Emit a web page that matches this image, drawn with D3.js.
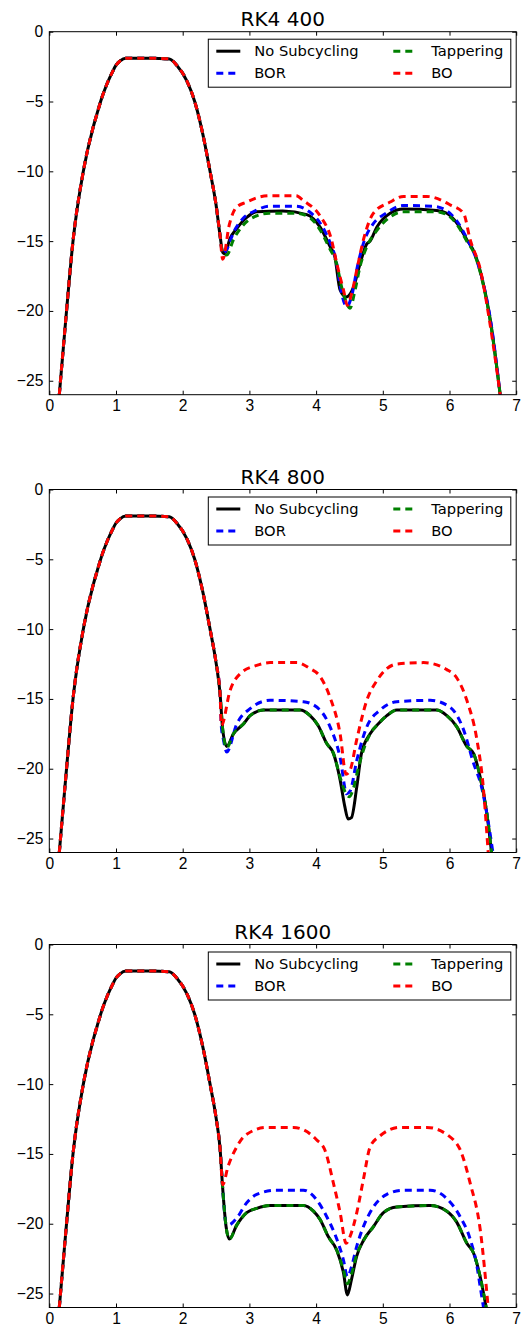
<!DOCTYPE html>
<html>
<head>
<meta charset="utf-8">
<script src="https://cdn.jsdelivr.net/npm/d3@7"></script>
<style>
  body { margin: 0; background: #fff; }
  svg { font-family: "DejaVu Sans", sans-serif; }
  .axis path.domain { display: none; }
  .axis line { stroke: #000; }
  .axis text { font-size: 15.6px; fill: #000; }
</style>
</head>
<body>
<div id="chart"></div>
<script>
// shared data
var titles = ["RK4 400", "RK4 800", "RK4 1600"];
var names = ["No Subcycling", "BOR", "Tappering", "BO"];
var xTicks = [0, 1, 2, 3, 4, 5, 6, 7];
var yTicks = [0, -5, -10, -15, -20, -25];

// common rising / falling part (all series overlap here)
var riseX = [0.15, 0.24, 0.36, 0.51, 0.66, 0.72, 0.79, 0.86, 0.94, 1.0, 1.06, 1.15, 1.5, 1.8, 1.91, 2.06, 2.18, 2.3, 2.41, 2.5, 2.56];
var riseY = [-26, -21, -14.8, -10, -6.8, -5.8, -4.7, -3.8, -2.95, -2.4, -2.1, -1.9, -1.9, -1.95, -2.4, -3.5, -5, -7.3, -10, -12.4, -14.6];

// RK4 400
var p1NoX  = [2.6, 2.63, 2.71, 2.81, 2.96, 3.11, 3.5, 3.86, 4.06, 4.21, 4.28, 4.36, 4.45, 4.56, 4.66, 4.76, 4.81, 4.91, 5.11, 5.31, 5.81, 5.96, 6.11, 6.26, 6.38, 6.48, 6.61, 6.76];
var p1NoY  = [-15.8, -15.9, -14.8, -14.1, -13.3, -12.9, -12.85, -13.1, -14.0, -15.4, -16.1, -18.5, -19.0, -18.3, -16.6, -15.2, -15.0, -14.0, -13.0, -12.7, -12.8, -13.0, -13.7, -14.9, -15.9, -17.5, -20.6, -26];
var p1BorX = [2.6, 2.66, 2.76, 2.9, 3.1, 3.3, 3.7, 3.9, 4.06, 4.2, 4.3, 4.38, 4.46, 4.53, 4.62, 4.72, 4.85, 5.05, 5.3, 5.75, 5.95, 6.1, 6.26, 6.38, 6.5, 6.62, 6.76];
var p1BorY = [-15.9, -15.6, -14.4, -13.4, -12.8, -12.5, -12.5, -12.9, -13.7, -15.0, -16.4, -18.7, -19.7, -19.0, -16.8, -15.0, -13.8, -13.0, -12.45, -12.5, -12.8, -13.5, -14.8, -16.0, -17.9, -20.8, -26];
var p1TapX = [2.6, 2.66, 2.76, 2.9, 3.1, 3.3, 3.7, 3.9, 4.06, 4.2, 4.3, 4.4, 4.51, 4.58, 4.66, 4.76, 4.9, 5.1, 5.3, 5.8, 5.96, 6.11, 6.26, 6.38, 6.48, 6.61, 6.76];
var p1TapY = [-15.9, -16.0, -14.9, -13.9, -13.2, -13.0, -13.0, -13.3, -14.2, -15.5, -16.5, -18.6, -19.8, -18.6, -16.8, -15.4, -14.3, -13.3, -12.9, -12.9, -13.1, -13.8, -15.0, -16.0, -17.6, -20.7, -26];
var p1BoX  = [2.6, 2.7, 2.8, 2.96, 3.11, 3.3, 3.7, 3.81, 4.06, 4.23, 4.31, 4.41, 4.47, 4.53, 4.63, 4.71, 4.86, 5.11, 5.31, 5.66, 6.01, 6.21, 6.31, 6.46, 6.61, 6.76];
var p1BoY  = [-16.3, -13.8, -12.6, -12.2, -11.9, -11.75, -11.75, -12.1, -13.2, -14.9, -16.6, -18.5, -19.6, -18.8, -16.6, -14.9, -13.0, -12.2, -11.8, -11.8, -12.4, -13.0, -14.9, -17.0, -21.0, -26];

// RK4 800
var p2NoX  = [2.6, 2.66, 2.76, 2.91, 3.01, 3.21, 3.76, 3.91, 4.03, 4.16, 4.26, 4.36, 4.43, 4.48, 4.53, 4.61, 4.68, 4.81, 4.93, 5.06, 5.21, 5.81, 5.96, 6.11, 6.26, 6.36, 6.46, 6.56, 6.63];
var p2NoY  = [-17.2, -18.4, -17.5, -16.8, -16.2, -15.8, -15.8, -16.2, -16.9, -18.2, -18.9, -20.8, -22.7, -23.6, -23.5, -21.3, -18.9, -17.5, -16.8, -16.2, -15.8, -15.8, -16.2, -17.0, -18.4, -18.9, -20.6, -23.2, -26];
var p2BorX = [2.58, 2.61, 2.66, 2.81, 3.01, 3.31, 3.81, 4.06, 4.21, 4.36, 4.46, 4.51, 4.61, 4.76, 4.96, 5.21, 5.71, 6.01, 6.21, 6.36, 6.48, 6.61, 6.65];
var p2BorY = [-17.0, -17.9, -18.8, -16.8, -15.7, -15.1, -15.2, -15.8, -17.0, -19.2, -21.8, -21.6, -19.4, -17.0, -15.8, -15.2, -15.1, -15.6, -17.2, -19.6, -21.3, -24.7, -26];
var p2TapX = [2.6, 2.66, 2.76, 2.91, 3.01, 3.21, 3.76, 3.91, 4.03, 4.16, 4.26, 4.36, 4.43, 4.5, 4.56, 4.63, 4.7, 4.81, 4.93, 5.06, 5.21, 5.81, 5.96, 6.11, 6.26, 6.36, 6.46, 6.56, 6.63];
var p2TapY = [-17.2, -18.5, -17.5, -16.8, -16.2, -15.8, -15.8, -16.2, -16.9, -18.2, -18.9, -20.6, -21.6, -22.0, -21.4, -20.0, -18.8, -17.5, -16.8, -16.2, -15.8, -15.8, -16.2, -17.0, -18.4, -18.9, -20.6, -23.2, -26];
var p2BoX  = [2.58, 2.71, 2.86, 3.11, 3.31, 3.71, 3.9, 4.06, 4.21, 4.36, 4.45, 4.51, 4.61, 4.76, 4.91, 5.21, 5.61, 5.96, 6.11, 6.26, 6.41, 6.5, 6.58];
var p2BoY  = [-16.9, -14.4, -13.2, -12.6, -12.4, -12.4, -12.8, -13.4, -14.9, -17.5, -20.4, -20.1, -17.9, -15.1, -13.7, -12.5, -12.4, -12.9, -13.5, -15.1, -17.9, -21.0, -26];

// RK4 1600
var p3NoX  = [2.6, 2.65, 2.7, 2.81, 2.96, 3.11, 3.31, 3.81, 3.96, 4.06, 4.18, 4.31, 4.41, 4.47, 4.53, 4.61, 4.71, 4.86, 5.01, 5.21, 5.71, 5.96, 6.11, 6.26, 6.36, 6.46, 6.55];
var p3NoY  = [-17.5, -20.2, -21.1, -20.1, -19.2, -18.9, -18.7, -18.7, -19.1, -19.7, -20.9, -21.9, -23.5, -25.1, -24.0, -22.3, -21.2, -20.2, -19.2, -18.8, -18.7, -19.1, -19.9, -21.4, -22.1, -23.8, -26];
var p3BorX = [2.6, 2.65, 2.68, 2.81, 2.96, 3.11, 3.41, 3.81, 4.01, 4.16, 4.31, 4.41, 4.47, 4.53, 4.61, 4.71, 4.86, 5.06, 5.31, 5.71, 5.96, 6.16, 6.31, 6.41, 6.46, 6.51];
var p3BorY = [-17.5, -20.0, -20.1, -19.6, -18.5, -17.9, -17.6, -17.6, -18.3, -19.5, -21.1, -22.6, -23.8, -23.1, -21.6, -20.2, -18.8, -17.9, -17.6, -17.6, -18.2, -19.5, -21.1, -23.0, -24.5, -26];
var p3TapX = [2.6, 2.65, 2.7, 2.81, 2.96, 3.11, 3.31, 3.81, 3.96, 4.06, 4.18, 4.31, 4.41, 4.47, 4.53, 4.61, 4.71, 4.86, 5.01, 5.21, 5.71, 5.96, 6.11, 6.26, 6.36, 6.46, 6.55];
var p3TapY = [-17.5, -20.2, -21.1, -20.1, -19.2, -18.9, -18.7, -18.7, -19.1, -19.7, -20.9, -21.9, -23.3, -24.3, -23.6, -22.2, -21.2, -20.2, -19.2, -18.8, -18.7, -19.1, -19.9, -21.4, -22.1, -23.8, -26];
var p3BoX  = [2.6, 2.68, 2.81, 2.93, 3.26, 3.66, 4.01, 4.13, 4.26, 4.36, 4.45, 4.51, 4.61, 4.71, 4.81, 4.96, 5.26, 5.66, 6.06, 6.16, 6.31, 6.46, 6.58];
var p3BoY  = [-17.2, -15.9, -14.5, -13.7, -13.1, -13.1, -14.0, -14.7, -17.1, -19.2, -21.4, -20.9, -19.2, -16.8, -14.5, -13.7, -13.1, -13.1, -14.0, -14.7, -17.1, -20.4, -26];

var colors = ["#000000", "#0000ff", "#008000", "#ff0000"];
var dashes = [null, "7,5", "7,5", "7,5"];

var panels = [
  [[p1NoX, p1NoY], [p1BorX, p1BorY], [p1TapX, p1TapY], [p1BoX, p1BoY]],
  [[p2NoX, p2NoY], [p2BorX, p2BorY], [p2TapX, p2TapY], [p2BoX, p2BoY]],
  [[p3NoX, p3NoY], [p3BorX, p3BorY], [p3TapX, p3TapY], [p3BoX, p3BoY]]
];

var W = 521, H = 1325;
var left = 49.3, plotW = 466.9, plotH = 363;
var tops = [31.7, 489.5, 944.5];

var svg = d3.select("#chart").append("svg")
  .attr("width", W)
  .attr("height", H);

var x = d3.scaleLinear().domain([0, 7]).range([0, plotW]);
var y = d3.scaleLinear().domain([-26, 0]).range([plotH, 0]);

var line = d3.line()
  .x(function(d) { return x(d[0]); })
  .y(function(d) { return y(d[1]); })
  .curve(d3.curveMonotoneX);

function toPoints(xs, ys) {
  return xs.map(function(v, i) { return [v, ys[i]]; });
}

var rise = toPoints(riseX, riseY);

panels.forEach(function(series, p) {
  var g = svg.append("g")
    .attr("transform", "translate(" + left + "," + tops[p] + ")");

  g.append("clipPath").attr("id", "clip" + p)
    .append("rect").attr("width", plotW).attr("height", plotH);

  var lines = g.append("g").attr("clip-path", "url(#clip" + p + ")");
  series.forEach(function(s, i) {
    lines.append("path")
      .datum(rise.concat(toPoints(s[0], s[1])))
      .attr("fill", "none")
      .attr("stroke", colors[i])
      .attr("stroke-width", 3)
      .attr("stroke-dasharray", dashes[i])
      .attr("d", line);
  });

  // axes, ticks inside on all four sides
  g.append("g").attr("class", "axis")
    .attr("transform", "translate(0," + plotH + ")")
    .call(d3.axisBottom(x).tickValues(xTicks).tickFormat(d3.format("d"))
      .tickSizeInner(-4).tickSizeOuter(0).tickPadding(5));
  g.append("g").attr("class", "axis")
    .call(d3.axisTop(x).tickValues(xTicks).tickSizeInner(-4).tickSizeOuter(0).tickFormat(""));
  g.append("g").attr("class", "axis")
    .call(d3.axisLeft(y).tickValues(yTicks).tickFormat(d3.format("d"))
      .tickSizeInner(-4).tickSizeOuter(0).tickPadding(6));
  g.append("g").attr("class", "axis")
    .attr("transform", "translate(" + plotW + ",0)")
    .call(d3.axisRight(y).tickValues(yTicks).tickSizeInner(-4).tickSizeOuter(0).tickFormat(""));

  g.append("rect")
    .attr("width", plotW)
    .attr("height", plotH)
    .attr("fill", "none")
    .attr("stroke", "#000")
    .attr("stroke-width", 1);

  g.append("text")
    .attr("x", plotW / 2)
    .attr("y", -5.5)
    .attr("text-anchor", "middle")
    .style("font-size", "20px")
    .text(titles[p]);

  // legend, two columns
  var lg = g.append("g").attr("transform", "translate(159,7.5)");
  lg.append("rect")
    .attr("width", 302.5)
    .attr("height", 48)
    .attr("fill", "#fff")
    .attr("stroke", "#000")
    .attr("stroke-width", 1);

  names.forEach(function(n, i) {
    var col = Math.floor(i / 2), row = i % 2;
    var hx = 8 + col * 177, hy = 12 + row * 22;
    lg.append("line")
      .attr("x1", hx).attr("x2", hx + 24)
      .attr("y1", hy).attr("y2", hy)
      .attr("stroke", colors[i])
      .attr("stroke-width", 3)
      .attr("stroke-dasharray", dashes[i]);
    lg.append("text")
      .attr("x", hx + 38)
      .attr("y", hy)
      .attr("dy", "0.35em")
      .style("font-size", "14.7px")
      .text(n);
  });
});
</script>
</body>
</html>
